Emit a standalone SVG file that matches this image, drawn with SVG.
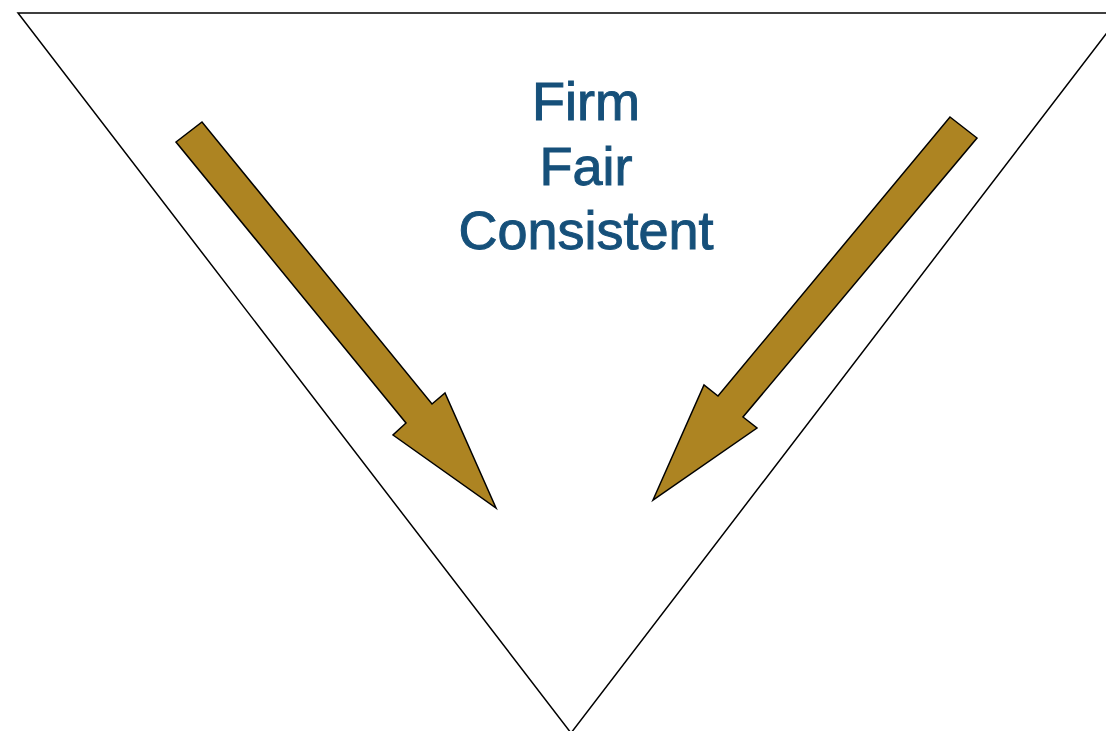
<svg xmlns="http://www.w3.org/2000/svg" width="1106" height="731" viewBox="0 0 1106 731">
<style>
.arrow{fill:#AD8422;stroke:#000;stroke-width:1.5;stroke-linejoin:miter}
.lbl{font-family:"Liberation Sans",Arial,sans-serif;font-size:54px;fill:#16507a;stroke:#16507a;stroke-width:1;text-anchor:middle}
</style>
<rect width="1106" height="731" fill="#fff"/>
<g id="triangle">
<polygon points="18,13 1122,13 571,733" fill="#fff" stroke="#000" stroke-width="1.5"/>
</g>
<g id="label">
<text class="lbl" x="586" y="120">Firm</text>
<text class="lbl" x="586" y="185">Fair</text>
<text class="lbl" x="586" y="249">Consistent</text>
</g>
<g id="connectors">
<polygon class="arrow" points="176,142 202,122 432,404 445,393 496,508 393,435 406,423"/>
<polygon class="arrow" points="950,117 977,138 743,417 757,428 653,500 704,385 718,396"/>
</g>
</svg>
